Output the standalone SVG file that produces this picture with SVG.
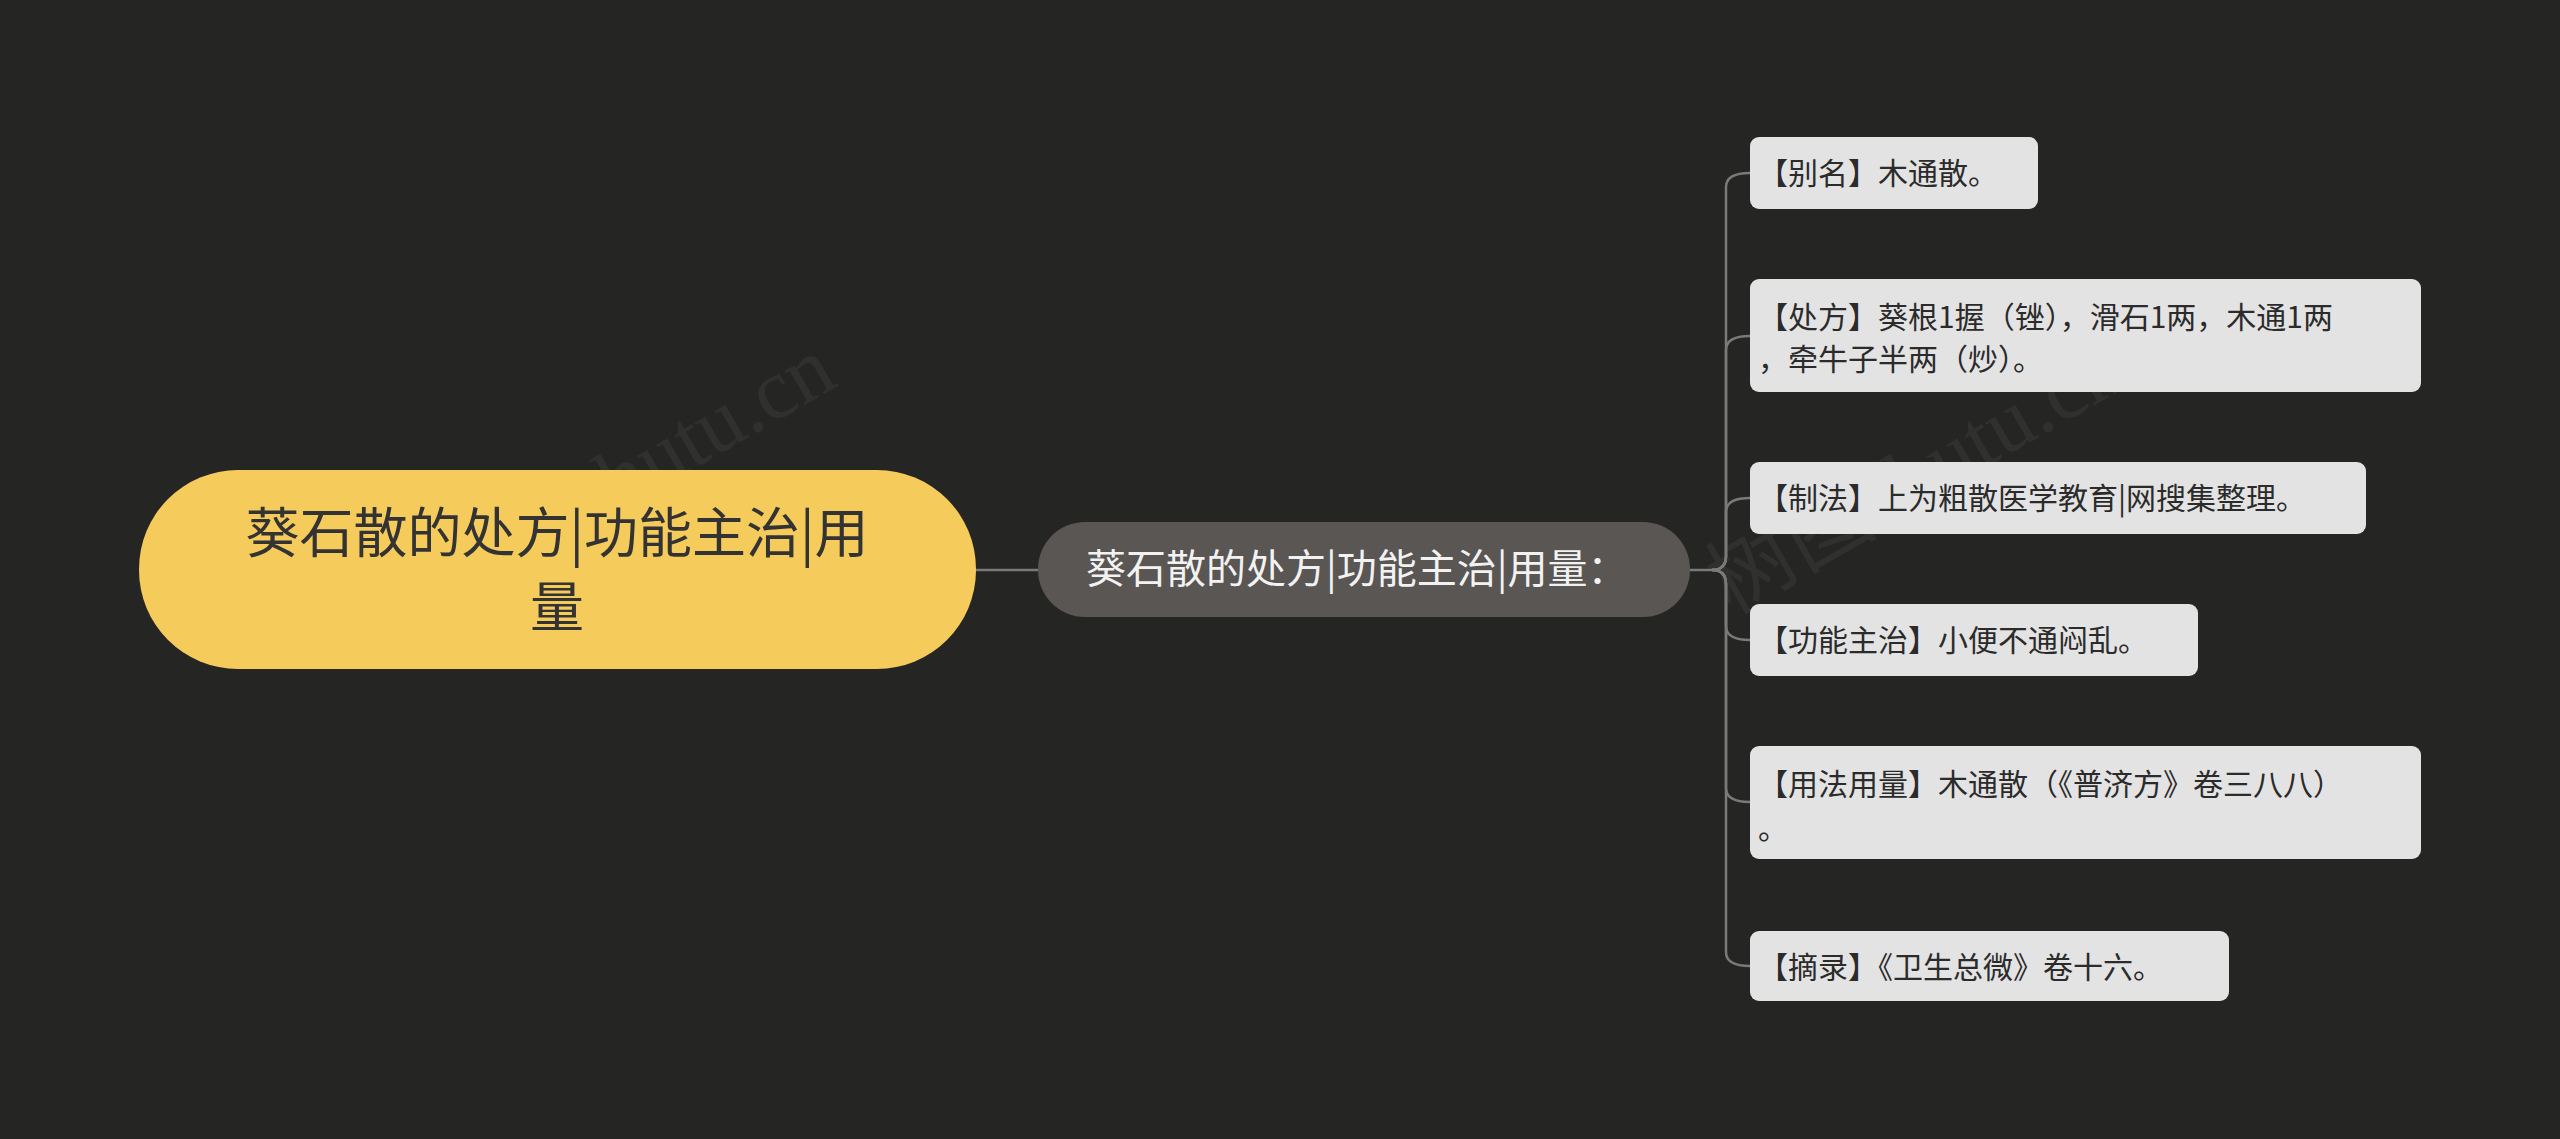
<svg xmlns="http://www.w3.org/2000/svg" width="2560" height="1139" viewBox="0 0 2560 1139">
<style>
.c{fill:none;stroke:#7a7a7a;stroke-width:2.5}
.k{fill:#e3e3e3}
.kt{font-family:"Noto Sans CJK SC",sans-serif;font-size:30px;fill:#2b2b2b}
.wm{font-family:"Liberation Serif","Noto Sans CJK SC",serif;font-size:86px;fill:#ffffff;opacity:0.05}
</style>
<rect width="2560" height="1139" fill="#252524"/>
<text class="wm" transform="translate(640,500) rotate(-30)" text-anchor="middle">树图shutu.cn</text>
<text class="wm" transform="translate(1930,500) rotate(-30)" text-anchor="middle">树图shutu.cn</text>
<g id="connectors">
<path class="c" d="M976,570 H1038"/>
<path class="c" d="M1690,570 H1712"/>
<path class="c" d="M1712,570 Q1726,570 1726,556 V187 Q1726,173 1750,173"/>
<path class="c" d="M1712,570 Q1726,570 1726,556 V350 Q1726,336 1750,336"/>
<path class="c" d="M1712,570 Q1726,570 1726,556 V512 Q1726,498 1750,498"/>
<path class="c" d="M1712,570 Q1726,570 1726,584 V626 Q1726,640 1750,640"/>
<path class="c" d="M1712,570 Q1726,570 1726,584 V788 Q1726,802 1750,802"/>
<path class="c" d="M1712,570 Q1726,570 1726,584 V952 Q1726,966 1750,966"/>
</g>
<g id="root">
<rect x="139" y="470" width="837" height="199" rx="99" fill="#f5cb5c"/>
<text font-family="'Noto Sans CJK SC',sans-serif" font-size="54" fill="#333" text-anchor="middle"><tspan x="557" y="553">葵石散的处方|功能主治|用</tspan><tspan x="557" y="627">量</tspan></text>
</g>
<g id="main">
<rect x="1038" y="522" width="652" height="95" rx="47" fill="#595654"/>
<text x="1086" y="583" font-family="'Noto Sans CJK SC',sans-serif" font-size="40" fill="#f2f2f2">葵石散的处方|功能主治|用量：</text>
</g>
<g id="n1"><rect class="k" x="1750" y="137" width="288" height="72" rx="9"/><text class="kt" x="1758" y="184">【别名】木通散。</text></g>
<g id="n2"><rect class="k" x="1750" y="279" width="671" height="113" rx="9"/><text class="kt"><tspan x="1758" y="328">【处方】葵根1握（锉），滑石1两，木通1两</tspan><tspan x="1758" y="370">，牵牛子半两（炒）。</tspan></text></g>
<g id="n3"><rect class="k" x="1750" y="462" width="616" height="72" rx="9"/><text class="kt" x="1758" y="509">【制法】上为粗散医学教育|网搜集整理。</text></g>
<g id="n4"><rect class="k" x="1750" y="604" width="448" height="72" rx="9"/><text class="kt" x="1758" y="651">【功能主治】小便不通闷乱。</text></g>
<g id="n5"><rect class="k" x="1750" y="746" width="671" height="113" rx="9"/><text class="kt"><tspan x="1758" y="795">【用法用量】木通散（《普济方》卷三八八）</tspan><tspan x="1758" y="839">。</tspan></text></g>
<g id="n6"><rect class="k" x="1750" y="931" width="479" height="70" rx="9"/><text class="kt" x="1758" y="978">【摘录】《卫生总微》卷十六。</text></g>
</svg>
